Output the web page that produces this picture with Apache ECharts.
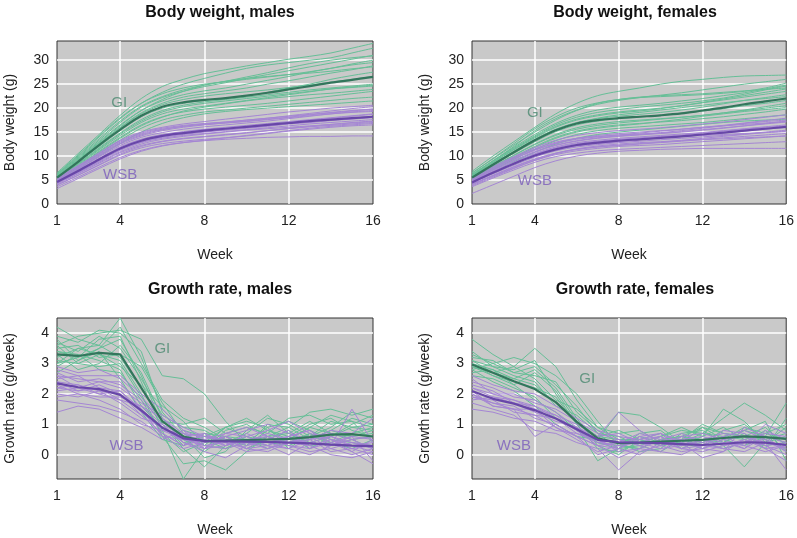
<!DOCTYPE html>
<html>
<head>
<meta charset="utf-8">
<script src="https://cdn.jsdelivr.net/npm/echarts@6/dist/echarts.min.js"></script>
<style>
  html, body { margin: 0; padding: 0; background: #fff; }
  #chart { width: 797px; height: 538px; }
</style>
</head>
<body>
<div id="chart"></div>
<script>
const weeks = [1, 2, 3, 4, 5, 6, 7, 8, 9, 10, 11, 12, 13, 14, 15, 16]
const weekTicks = [1, 4, 8, 12, 16]
const weekGrid = [4, 8, 12]
const weightTicks = [0, 5, 10, 15, 20, 25, 30]
const weightGrid = [5, 10, 15, 20, 25, 30]
const rateTicks = [0, 1, 2, 3, 4]

// body weight, males
const bwMaleGI = [
  [6.5, 10.5, 14.5, 18.5, 22, 24.5, 26, 27.2, 28, 28.8, 29.5, 30.2, 30.8, 31.5, 32.5, 33.5],
  [6.2, 10, 14, 17.8, 21, 23.3, 25, 26.2, 27.3, 28.3, 29, 29.5, 30, 30.5, 31.5, 32.5],
  [6, 9.6, 13.3, 17, 20.2, 22.2, 23.5, 24.5, 25.3, 26.2, 27, 27.8, 28.6, 29.4, 30.2, 31],
  [5.8, 9.2, 12.8, 16.3, 19.5, 21.5, 22.8, 23.6, 24.2, 25, 25.8, 26.6, 27.5, 28.3, 29.2, 30],
  [5.6, 9, 12.5, 16, 19, 21, 22.3, 23, 23.6, 24.2, 25, 25.7, 26.5, 27.3, 28, 28.8],
  [5.4, 8.6, 12, 15.3, 18.2, 20, 21, 21.6, 22, 22.6, 23.3, 24.2, 25, 26, 26.8, 27.5],
  [5.3, 8.4, 11.7, 14.8, 17.6, 19.5, 20.6, 21.3, 21.8, 22.3, 22.8, 23.3, 23.8, 24.2, 24.6, 25],
  [5.1, 8.1, 11.3, 14.3, 17, 18.8, 19.8, 20.4, 21, 21.6, 22.2, 22.8, 23.4, 24, 24.4, 24.8],
  [5, 7.9, 11, 13.9, 16.5, 18.2, 19.2, 19.8, 20.2, 20.6, 21, 21.5, 22, 22.5, 23, 23.5],
  [4.8, 7.6, 10.5, 13.3, 15.8, 17.5, 18.5, 19.2, 19.6, 20, 20.4, 20.8, 21.2, 21.6, 22, 22.3],
  [4.6, 7.3, 10, 12.6, 15, 16.8, 18, 18.8, 19.3, 19.7, 20, 20.3, 20.6, 20.9, 21.2, 21.5],
  [5.9, 9.4, 13, 16.5, 19.5, 21.8, 23.5, 24.8, 25.6, 26.2, 26.6, 27, 27.3, 27.7, 28.2, 28.6],
  [6.3, 10.2, 14.2, 18, 21, 23, 24.2, 25, 25.5, 26, 26.5, 27, 27.6, 28.3, 29, 29.5],
  [5.2, 8.3, 11.5, 14.6, 17.3, 19.2, 20.3, 21, 21.5, 22, 22.5, 23, 23.5, 24, 24.3, 24.6],
  [5.7, 9.1, 12.6, 15.9, 18.8, 20.7, 21.8, 22.5, 23, 23.4, 23.8, 24.3, 24.8, 25.4, 26, 26.6],
  [6.1, 9.8, 13.6, 17.3, 20.4, 22.4, 23.8, 24.8, 25.6, 26.5, 27.4, 28.4, 29.3, 30, 30.5, 30.9],
  [4.9, 7.8, 10.8, 13.7, 16.3, 18.1, 19.4, 20.2, 20.9, 21.5, 22, 22.4, 22.8, 23.1, 23.5, 23.9]
]
const bwMaleGIMean = [5.5, 8.8, 12.3, 15.5, 18.4, 20.3, 21.2, 21.7, 22.1, 22.6, 23.2, 23.9, 24.6, 25.3, 25.9, 26.5]
const bwMaleWSB = [
  [5.5, 8, 10.7, 13.3, 15, 16, 16.7, 17.2, 17.7, 18.2, 18.7, 19.2, 19.6, 20, 20.3, 20.6],
  [5.2, 7.6, 10.2, 12.7, 14.4, 15.5, 16.2, 16.7, 17.1, 17.5, 17.9, 18.3, 18.7, 19.1, 19.5, 19.8],
  [5, 7.3, 9.8, 12.2, 13.9, 14.9, 15.6, 16.1, 16.5, 16.9, 17.3, 17.8, 18.3, 18.8, 19.2, 19.5],
  [4.8, 7.1, 9.5, 11.9, 13.5, 14.5, 15.1, 15.6, 16, 16.4, 16.8, 17.2, 17.6, 18, 18.4, 18.8],
  [4.6, 6.9, 9.2, 11.5, 13.1, 14.1, 14.7, 15.1, 15.5, 15.9, 16.3, 16.7, 17, 17.4, 17.7, 18],
  [4.4, 6.6, 8.9, 11.2, 12.8, 13.7, 14.3, 14.7, 15.1, 15.5, 15.9, 16.3, 16.7, 17, 17.3, 17.6],
  [4.2, 6.3, 8.5, 10.7, 12.2, 13.1, 13.7, 14.1, 14.5, 14.9, 15.3, 15.7, 16.1, 16.4, 16.7, 17],
  [4, 6, 8.1, 10.2, 11.7, 12.6, 13.1, 13.5, 13.8, 14.2, 14.7, 15.2, 15.6, 16, 16.3, 16.5],
  [3.6, 5.6, 7.7, 9.7, 11.2, 12.2, 12.8, 13.2, 13.5, 13.7, 13.9, 14, 14.1, 14.1, 14.2, 14.2],
  [3.2, 5.3, 7.4, 9.4, 11, 12.1, 12.8, 13.3, 13.8, 14.3, 14.8, 15.3, 15.8, 16.2, 16.5, 16.8],
  [4.9, 7.4, 10, 12.5, 14.2, 15.3, 16, 16.5, 16.9, 17.3, 17.7, 18.1, 18.6, 19, 19.4, 19.8],
  [4.5, 6.8, 9.1, 11.3, 12.9, 13.9, 14.5, 15, 15.4, 15.8, 16.2, 16.7, 17.1, 17.5, 17.9, 18.3],
  [5.3, 7.9, 10.5, 13.1, 14.8, 15.8, 16.4, 16.8, 17.1, 17.5, 17.9, 18.4, 18.9, 19.4, 19.9, 20.3],
  [3.9, 6, 8.2, 10.4, 12, 13, 13.6, 14, 14.4, 14.8, 15.3, 15.8, 16.2, 16.6, 17, 17.3],
  [4.7, 7, 9.4, 11.7, 13.4, 14.4, 15, 15.5, 15.8, 16.2, 16.6, 17, 17.5, 17.9, 18.3, 18.7],
  [4.3, 6.5, 8.7, 10.9, 12.5, 13.5, 14.1, 14.6, 15, 15.4, 15.7, 16, 16.3, 16.6, 16.9, 17.2],
  [5.1, 7.7, 10.3, 12.9, 14.6, 15.6, 16.2, 16.6, 16.9, 17.2, 17.6, 18, 18.4, 18.8, 19.1, 19.3]
]
const bwMaleWSBMean = [4.6, 6.9, 9.3, 11.6, 13.2, 14.2, 14.8, 15.3, 15.7, 16.1, 16.5, 16.9, 17.3, 17.6, 17.9, 18.2]

// body weight, females
const bwFemaleGI = [
  [6.8, 10, 13, 16, 18.8, 21, 22.6, 23.5, 24.2, 25, 25.6, 26, 26.4, 26.7, 26.8, 26.9],
  [6.5, 9.4, 12.3, 15, 17.5, 19.5, 20.8, 21.6, 22.2, 22.7, 23.2, 23.8, 24.4, 25, 25.5, 26],
  [6.2, 9, 11.8, 14.5, 16.8, 18.5, 19.6, 20.2, 20.6, 21, 21.5, 22, 22.6, 23.2, 24, 24.8],
  [5.9, 8.7, 11.4, 14, 16.2, 17.7, 18.6, 19.2, 19.6, 20, 20.5, 21.1, 21.7, 22.3, 22.9, 23.5],
  [5.7, 8.4, 11, 13.5, 15.6, 17, 17.8, 18.3, 18.7, 19.1, 19.6, 20.2, 20.9, 21.6, 22.2, 22.8],
  [5.5, 8.1, 10.6, 13, 15.1, 16.5, 17.3, 17.8, 18.1, 18.5, 18.9, 19.4, 19.9, 20.5, 21, 21.6],
  [5.3, 7.8, 10.2, 12.5, 14.5, 15.9, 16.7, 17.2, 17.5, 17.8, 18.1, 18.5, 19, 19.6, 20.3, 21],
  [5.1, 7.5, 9.8, 12, 13.9, 15.2, 16, 16.5, 16.8, 17.1, 17.4, 17.8, 18.2, 18.7, 19.2, 19.8],
  [4.9, 7.1, 9.3, 11.4, 13.2, 14.5, 15.3, 15.8, 16.1, 16.4, 16.7, 17, 17.4, 17.8, 18.2, 18.6],
  [4.6, 6.7, 8.8, 10.8, 12.5, 13.7, 14.5, 15, 15.4, 15.8, 16.2, 16.6, 17, 17.3, 17.5, 17.7],
  [6, 9, 12, 15.3, 17.8, 19.6, 21, 21.8, 22.3, 22.6, 22.8, 23, 23.3, 23.6, 23.9, 24.2],
  [5.8, 8.6, 11.3, 13.8, 16, 17.5, 18.4, 19, 19.4, 19.9, 20.5, 21.2, 21.9, 22.6, 23.3, 24],
  [5.2, 7.7, 10.1, 12.4, 14.3, 15.6, 16.4, 16.9, 17.3, 17.7, 18.1, 18.5, 19, 19.5, 20, 20.5],
  [6.4, 9.5, 12.6, 15.7, 18.2, 20, 21.1, 21.8, 22.2, 22.4, 22.6, 22.8, 23.1, 23.5, 24.2, 25.2],
  [5.6, 8.3, 10.9, 13.4, 15.5, 16.9, 17.9, 18.6, 19.1, 19.6, 20.1, 20.6, 21.1, 21.6, 22, 22.4],
  [6.1, 8.9, 11.6, 14.2, 16.5, 18.1, 19.1, 19.7, 20.2, 20.6, 21, 21.5, 22.1, 22.9, 23.8, 24.6],
  [5, 7.3, 9.6, 11.8, 13.7, 15, 15.8, 16.3, 16.7, 17.2, 17.7, 18.3, 18.8, 19.3, 19.7, 20.1]
]
const bwFemaleGIMean = [5.5, 8.2, 10.8, 13.3, 15.4, 16.8, 17.5, 17.9, 18.2, 18.5, 18.9, 19.5, 20.1, 20.8, 21.4, 22]
const bwFemaleWSB = [
  [5.5, 7.8, 9.9, 11.8, 13.3, 14.3, 14.9, 15.3, 15.6, 15.9, 16.3, 16.7, 17.1, 17.6, 18.1, 18.6],
  [5.2, 7.4, 9.5, 11.3, 12.7, 13.7, 14.3, 14.7, 15, 15.3, 15.6, 16, 16.4, 16.9, 17.4, 17.9],
  [5, 7.1, 9.1, 10.9, 12.3, 13.2, 13.8, 14.2, 14.5, 14.8, 15.1, 15.5, 15.9, 16.3, 16.7, 17.1],
  [4.8, 6.8, 8.7, 10.5, 11.9, 12.8, 13.3, 13.7, 14, 14.3, 14.6, 14.9, 15.3, 15.7, 16.1, 16.5],
  [4.6, 6.6, 8.5, 10.2, 11.5, 12.4, 12.9, 13.3, 13.6, 13.9, 14.2, 14.5, 14.8, 15.2, 15.6, 16],
  [4.4, 6.3, 8.1, 9.8, 11.1, 11.9, 12.4, 12.8, 13.1, 13.4, 13.7, 14, 14.3, 14.6, 15, 15.4],
  [4.2, 6, 7.8, 9.4, 10.6, 11.4, 11.9, 12.3, 12.6, 12.9, 13.2, 13.5, 13.8, 14.1, 14.4, 14.7],
  [4, 5.8, 7.5, 9.1, 10.3, 11.1, 11.6, 12, 12.2, 12.4, 12.7, 13, 13.3, 13.6, 13.9, 14.2],
  [3.6, 5.4, 7.1, 8.7, 9.9, 10.6, 11.1, 11.4, 11.6, 11.8, 12, 12.2, 12.4, 12.6, 12.8, 13],
  [2.2, 4, 5.8, 7.6, 9, 10, 10.6, 11, 11.2, 11.4, 11.5, 11.6, 11.6, 11.6, 11.6, 11.6],
  [4.9, 7, 9, 10.8, 12.2, 13.1, 13.7, 14.1, 14.4, 14.7, 15, 15.4, 15.8, 16.3, 16.8, 17.3],
  [4.5, 6.5, 8.4, 10, 11.3, 12.1, 12.6, 13, 13.4, 13.8, 14.1, 14.3, 14.5, 14.7, 14.9, 15.1],
  [3.8, 5.6, 7.4, 9.1, 10.5, 11.4, 11.9, 12.2, 12.5, 12.8, 13.1, 13.4, 13.6, 13.8, 14, 14.2],
  [5.3, 7.6, 9.7, 11.5, 12.9, 13.7, 14.1, 14.4, 14.6, 14.9, 15.3, 15.8, 16.3, 16.8, 17.2, 17.5],
  [4.7, 6.7, 8.6, 10.4, 11.7, 12.6, 13.1, 13.5, 13.8, 14.1, 14.4, 14.8, 15.2, 15.6, 16, 16.3],
  [4.1, 5.9, 7.7, 9.3, 10.6, 11.5, 12.1, 12.5, 12.8, 13, 13.3, 13.7, 14.1, 14.5, 14.9, 15.2],
  [5.1, 7.3, 9.4, 11.2, 12.6, 13.5, 14, 14.4, 14.8, 15.2, 15.6, 16, 16.3, 16.6, 16.9, 17.2]
]
const bwFemaleWSBMean = [4.5, 6.5, 8.4, 10.1, 11.4, 12.3, 12.8, 13.2, 13.5, 13.8, 14.1, 14.5, 14.9, 15.3, 15.7, 16.1]

// growth rate, males
const grMaleGI = [
  [4.2, 3.8, 3.6, 4.5, 3.2, 1.5, 0.8, 0.6, 0.9, 1.2, 0.8, 0.5, 0.9, 1.3, 1.1, 0.9],
  [3.6, 3.9, 4.0, 4.1, 3.8, 2.6, 2.5, 2.0, 1.1, 0.4, 0.6, 0.7, 0.4, 0.6, 0.9, 1.0],
  [3.4, 3.2, 3.8, 3.9, 2.4, 0.8, -0.8, 0.2, 0.8, 1.0, 0.6, 0.9, 1.4, 1.5, 1.3, 1.5],
  [3.0, 3.5, 3.3, 3.1, 2.0, 0.6, -0.3, -0.2, -0.5, 0.1, 0.6, 0.4, 0.5, 0.8, 0.6, 0.7],
  [3.3, 2.8, 3.0, 3.6, 2.7, 1.2, 0.4, 0.5, 0.2, 0.4, 0.9, 1.1, 0.8, 0.5, 0.4, 0.3],
  [2.9, 3.3, 3.1, 2.8, 1.6, 0.9, 0.5, 0.1, 0.6, 0.5, 0.3, 0.6, 1.0, 1.2, 0.8, 0.6],
  [3.7, 3.4, 3.9, 3.5, 2.5, 1.3, 0.9, 0.8, 0.4, 0.7, 1.2, 1.0, 0.6, 0.9, 1.4, 1.2],
  [3.1, 3.0, 2.9, 3.0, 1.9, 1.0, 0.2, -0.4, 0.3, 0.5, 0.2, 0.4, 0.7, 0.3, 0.5, 0.2],
  [3.5, 3.6, 3.2, 3.3, 2.9, 1.7, 0.7, 0.3, 0.9, 0.6, 0.4, 0.3, 0.6, 1.1, 0.9, 0.8],
  [2.7, 3.1, 3.4, 2.5, 1.4, 0.5, 0.3, 0.6, 0.5, 0.2, 0.5, 0.8, 0.3, 0.4, 0.7, 0.9],
  [3.9, 3.7, 4.1, 4.0, 3.4, 1.4, 0.6, -0.1, 0.1, 0.8, 1.3, 0.7, 1.1, 0.7, 0.5, 0.6],
  [3.2, 3.5, 3.6, 3.2, 2.2, 1.1, 1.0, 1.2, 0.7, 0.9, 0.7, 1.2, 1.3, 1.0, 1.1, 0.4],
  [3.8, 3.1, 3.5, 4.2, 3.0, 1.8, 1.2, 0.9, 0.5, 0.3, 0.8, 0.6, 0.2, 0.6, 1.0, 1.3],
  [3.4, 3.3, 2.8, 2.7, 1.8, 0.7, 0.1, 0.4, 0.9, 1.1, 0.9, 0.2, 0.7, 0.4, 0.2, 0.5],
  [3.0, 3.2, 3.5, 3.8, 2.6, 1.0, 0.3, 0.7, 0.6, 0.3, 1.0, 0.9, 0.5, 0.8, 1.2, 1.0],
  [3.6, 3.0, 3.3, 2.9, 2.3, 1.6, 1.1, 0.3, 0.2, 0.6, 0.4, 0.5, 0.9, 0.7, 0.6, 0.8]
]
const grMaleGIMean = [3.3, 3.25, 3.35, 3.3, 2.2, 1.1, 0.6, 0.45, 0.46, 0.48, 0.5, 0.52, 0.58, 0.66, 0.68, 0.6]
const grMaleWSB = [
  [2.9, 2.7, 2.8, 2.5, 1.9, 1.2, 0.7, 0.4, 0.6, 0.8, 1.0, 0.7, 0.5, 0.6, 0.4, 0.2],
  [2.7, 2.4, 2.5, 2.3, 1.8, 1.1, 0.6, 0.7, 0.3, 0.5, 0.4, 0.6, 0.8, 0.3, 1.5, 0.4],
  [2.5, 2.6, 2.2, 2.1, 1.5, 0.9, 0.4, 0.2, 0.5, 0.4, 0.2, 0.4, 0.3, 0.5, 0.1, -0.3],
  [2.4, 2.1, 2.3, 2.0, 1.4, 0.8, 0.5, 0.6, 0.4, 0.2, 0.6, 0.3, 0.1, 0.2, 0.4, 0.3],
  [2.2, 2.3, 2.0, 1.8, 1.3, 0.7, 0.3, 0.5, 0.7, 0.6, 0.3, 0.0, 0.4, 0.6, 0.3, 0.1],
  [2.0, 1.9, 2.1, 1.7, 1.2, 1.0, 0.6, 0.3, 0.2, 0.4, 0.7, 0.5, 0.6, 0.2, 0.0, 0.2],
  [1.8, 1.7, 1.6, 1.4, 1.1, 0.6, 0.2, 0.4, 0.6, 0.3, 0.5, 0.8, 0.2, 0.4, 0.6, 0.5],
  [1.4, 1.6, 1.5, 1.2, 0.9, 0.5, 0.8, 0.5, 0.3, 0.7, 0.4, 0.2, 0.5, 0.1, 0.2, 0.0],
  [2.6, 2.5, 2.4, 2.2, 1.7, 1.3, 0.9, 0.6, 0.5, 0.2, 0.1, 0.4, 0.6, 0.7, 0.5, 0.6],
  [2.3, 2.0, 1.9, 1.9, 1.6, 1.0, 0.4, 0.1, -0.1, 0.3, 0.5, 0.6, 0.3, 0.0, -0.1, 0.1],
  [2.1, 2.2, 2.4, 2.4, 1.5, 0.6, 0.5, 0.3, 0.4, 0.6, 0.8, 1.1, 0.7, 0.5, 0.3, 0.4],
  [1.9, 2.0, 1.8, 1.5, 1.0, 0.8, 0.7, 0.6, 0.5, 0.4, 0.3, 0.2, 0.0, 0.3, 0.5, 0.2],
  [2.8, 2.6, 2.6, 2.6, 2.0, 1.5, 0.8, 0.2, 0.7, 0.9, 0.6, 0.4, 0.5, 0.8, 0.7, 1.2],
  [2.4, 2.3, 2.1, 2.0, 1.3, 0.7, 0.3, 0.7, 0.4, 0.1, 0.2, 0.5, 0.4, 0.3, 0.6, -0.2],
  [2.2, 2.1, 2.2, 1.8, 1.6, 1.2, 0.6, 0.2, 0.3, 0.5, 0.6, 0.3, 0.2, 0.5, 0.2, 0.3],
  [2.6, 2.2, 2.0, 2.1, 1.4, 0.9, 0.5, 0.4, 0.6, 0.2, 0.3, 0.6, 0.8, 0.4, 0.1, 0.5]
]
const grMaleWSBMean = [2.35, 2.22, 2.16, 1.97, 1.46, 0.89, 0.54, 0.45, 0.44, 0.43, 0.42, 0.4, 0.37, 0.33, 0.3, 0.28]

// growth rate, females
const grFemaleGI = [
  [3.8, 3.3, 2.9, 3.5, 2.9, 1.8, 0.9, 0.5, 0.4, 0.6, 0.8, 0.7, 1.2, 1.7, 1.3, 0.8],
  [3.3, 3.0, 3.2, 3.0, 2.6, 2.0, 1.1, 0.3, 0.2, 0.5, 0.4, 0.9, 0.5, 0.3, 0.6, 1.7],
  [3.0, 2.8, 2.5, 2.8, 2.2, 1.2, 0.3, 0.0, 0.5, 0.3, 0.6, 0.4, 0.8, 1.0, 0.5, 0.2],
  [2.9, 2.6, 2.4, 2.2, 1.9, 1.0, 0.6, 0.8, 0.5, 0.7, 0.2, 0.5, 0.3, -0.4, 0.4, 0.6],
  [2.7, 2.8, 2.3, 1.8, 1.4, 0.8, 0.4, 0.2, 0.6, 0.4, 0.5, 1.0, 0.7, 0.6, 0.9, 0.3],
  [3.1, 2.9, 2.6, 2.4, 1.6, 1.3, 0.7, 0.6, 0.3, 0.1, 0.5, 0.3, 0.6, 0.8, 1.1, -0.2],
  [2.6, 2.5, 2.2, 1.9, 1.2, 0.9, -0.2, 0.2, 0.7, 0.8, 0.3, 0.6, 0.9, 0.5, 0.3, 0.4],
  [3.2, 3.1, 2.7, 2.6, 2.4, 1.4, 0.8, 0.4, 0.1, 0.2, 0.7, 0.8, 0.4, 0.7, 0.2, 1.2],
  [2.8, 2.4, 2.1, 1.6, 1.0, 0.6, 0.5, 1.4, 1.3, 0.9, 0.4, 0.2, 0.5, 0.9, 0.7, 0.5],
  [3.4, 2.9, 2.8, 3.1, 2.0, 1.0, 0.2, 0.1, 0.4, 0.6, 0.9, 0.6, 1.5, 1.1, 0.4, 0.9],
  [2.9, 2.7, 2.9, 2.5, 1.8, 1.5, 0.9, 0.7, 0.8, 0.4, 0.3, 0.4, 0.2, 0.4, 0.8, 0.1],
  [3.0, 2.6, 2.3, 2.7, 2.1, 1.1, 0.4, 0.3, 0.2, 0.5, 0.6, 0.9, 0.7, 0.6, 0.5, 0.7],
  [3.1, 2.7, 2.5, 2.3, 1.7, 1.1, 0.6, 0.5, 0.5, 0.3, 0.4, 0.7, 0.6, 0.5, 0.7, 1.0],
  [2.8, 3.0, 2.7, 2.9, 2.3, 1.6, 0.7, 0.2, 0.3, 0.5, 0.6, 0.5, 0.4, 0.8, 0.6, 0.4]
]
const grFemaleGIMean = [2.97, 2.7, 2.42, 2.16, 1.73, 1.08, 0.54, 0.38, 0.4, 0.43, 0.46, 0.49, 0.55, 0.6, 0.58, 0.52]
const grFemaleWSB = [
  [2.6, 2.3, 2.1, 2.0, 1.6, 1.2, 0.8, 0.6, 0.5, 0.7, 0.4, 0.3, 0.6, 0.8, 0.5, 0.2],
  [2.4, 2.2, 1.9, 1.8, 1.4, 0.9, 0.5, 0.2, 0.6, 0.3, 0.5, 0.6, 0.4, 0.2, 0.6, 0.4],
  [2.2, 1.9, 1.8, 1.5, 1.3, 1.0, 0.6, 1.4, 0.8, 0.4, 0.2, 0.1, 0.3, 0.5, 0.3, 0.0],
  [2.0, 1.7, 1.6, 1.2, 1.0, 0.6, 0.3, -0.1, 0.2, 0.5, 0.7, 0.4, 0.2, 0.4, 0.7, 0.6],
  [1.9, 1.8, 1.4, 1.3, 0.9, 0.5, 0.1, 0.3, 0.4, 0.2, 0.3, 0.5, 0.7, 0.6, 0.4, -0.5],
  [1.7, 1.5, 1.3, 0.8, 0.7, 0.4, 0.2, -0.5, 0.1, 0.3, 0.1, 0.2, 0.4, 0.3, 0.1, 0.3],
  [1.5, 1.4, 1.2, 1.1, 0.8, 0.7, 0.4, 0.3, 0.6, 0.7, 0.4, -0.1, 0.1, 0.5, 0.2, -0.2],
  [2.5, 2.0, 2.0, 1.7, 1.5, 1.1, 0.7, 0.5, 0.3, 0.1, 0.6, 0.7, 0.5, 0.2, 0.8, 0.5],
  [2.3, 2.1, 1.7, 1.6, 1.2, 0.8, 0.3, 0.4, 0.7, 0.5, 0.2, 0.3, 0.8, 0.7, 0.3, 0.4],
  [2.1, 1.6, 1.5, 0.6, 1.0, 0.6, 0.0, 0.2, 0.0, 0.4, 0.6, 0.2, 0.1, 0.9, 0.6, 0.1],
  [1.8, 1.9, 1.7, 1.4, 1.1, 0.9, 0.6, 0.7, 0.4, 0.6, 0.3, 0.4, 0.6, 0.3, 1.0, 0.7],
  [2.0, 1.6, 1.5, 1.3, 1.2, 0.7, 0.5, 0.1, 0.2, 0.1, 0.0, 0.3, 0.2, 0.1, 0.4, 0.2],
  [2.2, 2.0, 1.8, 1.6, 1.3, 0.8, 0.4, 0.5, 0.3, 0.4, 0.5, 0.2, 0.5, 0.6, 0.2, 0.3],
  [1.9, 1.7, 1.5, 1.5, 0.9, 0.6, 0.3, 0.2, 0.5, 0.6, 0.2, 0.5, 0.3, 0.4, 0.5, 0.1]
]
const grFemaleWSBMean = [2.1, 1.84, 1.68, 1.46, 1.19, 0.84, 0.49, 0.41, 0.4, 0.38, 0.35, 0.32, 0.36, 0.41, 0.4, 0.32]

// group label anchors [week, value]
const giLabelAt = [[3.95, 21], [4.0, 19], [6.0, 3.5], [6.5, 2.5]]
const wsbLabelAt = [[4.0, 6], [4.0, 4.8], [4.3, 0.28], [3.0, 0.28]]

const panelTitles = ['Body weight, males', 'Body weight, females', 'Growth rate, males', 'Growth rate, females']

const FONT = "'Liberation Sans', Arial, sans-serif"
const GI_LINE = '#66bf97'
const GI_MEAN = '#33765c'
const WSB_LINE = '#a586d4'
const WSB_MEAN = '#6847a8'

const grids = [
  { left: 57, top: 41, width: 316, height: 163 },
  { left: 472, top: 41, width: 316, height: 163 },
  { left: 57, top: 318, width: 316, height: 163 },
  { left: 472, top: 318, width: 316, height: 163 }
]

const toPts = vals => weeks.map((w, i) => [w, vals[i]])

const panels = [
  { gi: bwMaleGI, giMean: bwMaleGIMean, wsb: bwMaleWSB, wsbMean: bwMaleWSBMean, smooth: 0.35 },
  { gi: bwFemaleGI, giMean: bwFemaleGIMean, wsb: bwFemaleWSB, wsbMean: bwFemaleWSBMean, smooth: 0.35 },
  { gi: grMaleGI, giMean: grMaleGIMean, wsb: grMaleWSB, wsbMean: grMaleWSBMean, smooth: false },
  { gi: grFemaleGI, giMean: grFemaleGIMean, wsb: grFemaleWSB, wsbMean: grFemaleWSBMean, smooth: false }
]

const series = []
panels.forEach((p, k) => {
  const base = { type: 'line', xAxisIndex: k, yAxisIndex: k, symbol: 'none', silent: true, smooth: p.smooth, animation: false }
  p.gi.forEach(v => series.push({ ...base, data: toPts(v), lineStyle: { color: GI_LINE, width: 1 } }))
  p.wsb.forEach(v => series.push({ ...base, data: toPts(v), lineStyle: { color: WSB_LINE, width: 1 } }))
  series.push({ ...base, data: toPts(p.giMean), lineStyle: { color: GI_MEAN, width: 2.2 }, z: 5 })
  series.push({ ...base, data: toPts(p.wsbMean), lineStyle: { color: WSB_MEAN, width: 2.2 }, z: 5 })
  series.push({
    type: 'scatter', xAxisIndex: k, yAxisIndex: k, silent: true, animation: false, symbolSize: 1,
    itemStyle: { color: 'rgba(0,0,0,0)' }, z: 6,
    data: [
      { value: giLabelAt[k], label: { show: true, position: 'inside', formatter: 'GI', color: '#4b8a70', fontSize: 15, fontFamily: FONT } },
      { value: wsbLabelAt[k], label: { show: true, position: 'inside', formatter: 'WSB', color: '#7a5cbc', fontSize: 15, fontFamily: FONT } }
    ]
  })
})

const textStyle = { fontSize: 14, color: '#222', fontFamily: FONT }

const xAxes = grids.map((g, k) => ({
  type: 'value', gridIndex: k, min: 1, max: 16,
  name: 'Week', nameLocation: 'middle', nameGap: 44,
  nameTextStyle: textStyle,
  axisLine: { show: false },
  axisTick: { show: false, customValues: weekGrid },
  axisLabel: { ...textStyle, customValues: weekTicks, margin: 10 },
  splitLine: { show: true, lineStyle: { color: '#fff', width: 1.5 } }
}))

const yAxes = grids.map((g, k) => {
  const isWeight = k < 2
  return {
    type: 'value', gridIndex: k,
    min: isWeight ? 0 : -0.8, max: isWeight ? 34 : 4.5,
    name: isWeight ? 'Body weight (g)' : 'Growth rate (g/week)',
    nameLocation: 'middle', nameGap: 40,
    nameTextStyle: textStyle,
    axisLine: { show: false },
    axisTick: { show: false, customValues: isWeight ? weightGrid : rateTicks },
    axisLabel: { ...textStyle, customValues: isWeight ? weightTicks : rateTicks, margin: 8 },
    splitLine: { show: true, lineStyle: { color: '#fff', width: 1.5 } }
  }
})

const chart = echarts.init(document.getElementById('chart'), null, { renderer: 'canvas' })
chart.setOption({
  backgroundColor: '#fff',
  animation: false,
  title: panelTitles.map((t, k) => ({
    text: t, left: grids[k].left + grids[k].width / 2, top: k < 2 ? 0 : 277, textAlign: 'center',
    textStyle: { fontSize: 16, fontWeight: 'bold', color: '#111', fontFamily: FONT }
  })),
  grid: grids.map(g => ({ ...g, show: true, backgroundColor: '#c9c9c9', borderColor: '#333', borderWidth: 1 })),
  xAxis: xAxes,
  yAxis: yAxes,
  series
})
</script>
</body>
</html>
